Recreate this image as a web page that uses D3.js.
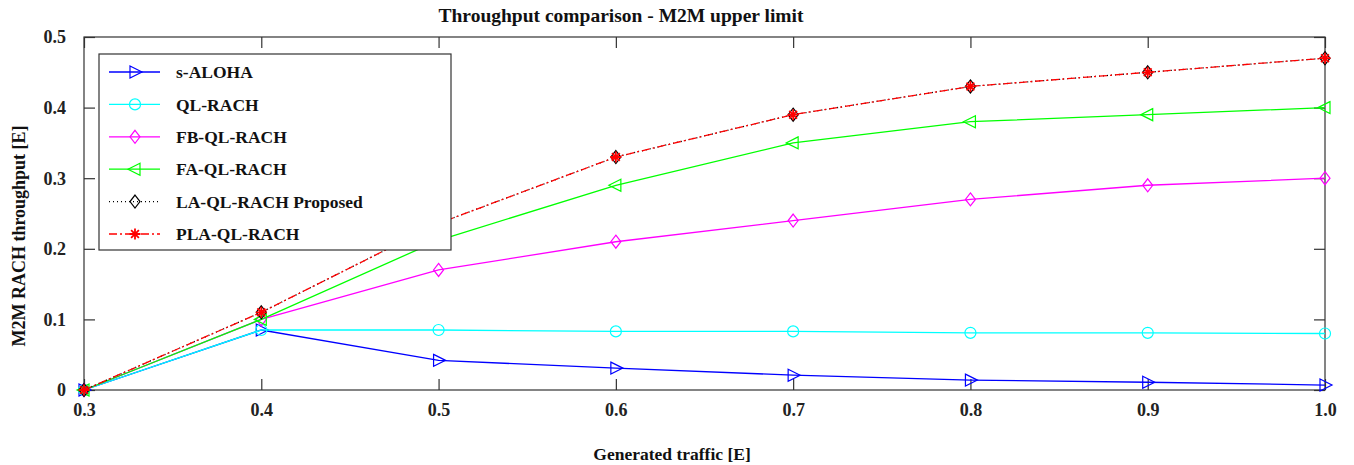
<!DOCTYPE html>
<html><head><meta charset="utf-8">
<script src="https://cdn.jsdelivr.net/npm/d3@7"></script>
<style>body{margin:0;background:#fff}svg{display:block}text{font-family:"Liberation Serif","Times New Roman",serif;font-weight:bold}</style>
</head><body><svg id="c" width="1354" height="465"></svg>
<script>
const xValues = [0.3, 0.4, 0.5, 0.6, 0.7, 0.8, 0.9, 1.0];
const xTickLabels = ["0.3","0.4","0.5","0.6","0.7","0.8","0.9","1.0"];
const yTickValues = [0, 0.1, 0.2, 0.3, 0.4, 0.5];
const yTickLabels = ["0","0.1","0.2","0.3","0.4","0.5"];
const seriesNames = ["s-ALOHA","QL-RACH","FB-QL-RACH","FA-QL-RACH","LA-QL-RACH Proposed","PLA-QL-RACH"];
const sAloha   = [0, 0.085, 0.042, 0.031, 0.021, 0.014, 0.011, 0.007];
const qlRach   = [0, 0.085, 0.085, 0.083, 0.083, 0.081, 0.081, 0.080];
const fbQlRach = [0, 0.100, 0.170, 0.210, 0.240, 0.270, 0.290, 0.300];
const faQlRach = [0, 0.100, 0.212, 0.290, 0.350, 0.380, 0.390, 0.400];
const laQlRach = [0, 0.110, 0.236, 0.330, 0.390, 0.430, 0.450, 0.470];
const plaQlRach= [0, 0.110, 0.236, 0.330, 0.390, 0.430, 0.450, 0.470];
const seriesValues = [sAloha, qlRach, fbQlRach, faQlRach, laQlRach, plaQlRach];
const styles = [
  {color:"#0000ff", dash:null, marker:"tri-right"},
  {color:"#00ffff", dash:null, marker:"circle"},
  {color:"#ff00ff", dash:null, marker:"diamond"},
  {color:"#00ff00", dash:null, marker:"tri-left"},
  {color:"#000000", dash:"1,3", marker:"diamond"},
  {color:"#ff0000", dash:"8,3,2,3", marker:"star"}
];
const svg = d3.select("#c");
const L=84, R=1325, T=37, B=390;
const x = d3.scaleLinear().domain([0.3,1.0]).range([L,R]);
const y = d3.scaleLinear().domain([0,0.5]).range([B,T]);
const axisColor="#333";
svg.append("rect").attr("x",L).attr("y",T).attr("width",R-L).attr("height",B-T).attr("fill","none").attr("stroke",axisColor).attr("stroke-width",1.2);
const xa = svg.append("g").attr("transform",`translate(0,${B})`).call(d3.axisBottom(x).tickValues(xValues).tickFormat((d,i)=>xTickLabels[i]).tickSizeInner(-11).tickSizeOuter(0).tickPadding(10));
const xt = svg.append("g").attr("transform",`translate(0,${T})`).call(d3.axisTop(x).tickValues(xValues).tickFormat("").tickSizeInner(-11).tickSizeOuter(0));
const ya = svg.append("g").attr("transform",`translate(${L},0)`).call(d3.axisLeft(y).tickValues(yTickValues).tickFormat((d,i)=>yTickLabels[i]).tickSizeInner(-11).tickSizeOuter(0).tickPadding(18));
const yr = svg.append("g").attr("transform",`translate(${R},0)`).call(d3.axisRight(y).tickValues(yTickValues).tickFormat("").tickSizeInner(-11).tickSizeOuter(0));
[xa,xt,ya,yr].forEach(g=>{g.select(".domain").remove();g.selectAll("line").attr("stroke",axisColor).attr("stroke-width",1.2);g.selectAll("text").attr("fill","#222").style("font-size","18px").style("font-family","'Liberation Serif',serif").style("font-weight","bold");});
xa.selectAll("text").attr("y",26).attr("dy","0");
ya.selectAll("text").attr("dy","0.33em");
function drawMarker(g, type, cx, cy, color){
  const s = 6;
  if(type==="tri-right"){
    g.append("path").attr("d",`M${cx-s+1},${cy-s}L${cx+s+1},${cy}L${cx-s+1},${cy+s}Z`).attr("fill","none").attr("stroke",color).attr("stroke-width",1.2);
  } else if(type==="tri-left"){
    g.append("path").attr("d",`M${cx+s-1},${cy-s}L${cx-s-1},${cy}L${cx+s-1},${cy+s}Z`).attr("fill","none").attr("stroke",color).attr("stroke-width",1.2);
  } else if(type==="circle"){
    g.append("circle").attr("cx",cx).attr("cy",cy).attr("r",5.5).attr("fill","none").attr("stroke",color).attr("stroke-width",1.2);
  } else if(type==="diamond"){
    g.append("path").attr("d",`M${cx},${cy-6.5}L${cx+5},${cy}L${cx},${cy+6.5}L${cx-5},${cy}Z`).attr("fill","none").attr("stroke",color).attr("stroke-width",1.2);
  } else if(type==="star"){
    const r=5.5;
    let d="";
    for(let k=0;k<4;k++){const a=k*Math.PI/4;d+=`M${cx-r*Math.cos(a)},${cy-r*Math.sin(a)}L${cx+r*Math.cos(a)},${cy+r*Math.sin(a)}`;}
    g.append("path").attr("d",d).attr("stroke",color).attr("stroke-width",1.8);
  }
}
const line = d3.line().x((d,i)=>x(xValues[i])).y(d=>y(d));
const plot = svg.append("g");
seriesValues.forEach((vals,si)=>{
  const st=styles[si];
  const g=plot.append("g");
  g.append("path").datum(vals).attr("d",line).attr("fill","none").attr("stroke",st.color).attr("stroke-width",1.3).attr("stroke-dasharray",st.dash);
  vals.forEach((v,i)=>drawMarker(g,st.marker,x(xValues[i]),y(v),st.color));
});
const lg = svg.append("g");
lg.append("rect").attr("x",99).attr("y",54).attr("width",352).attr("height",196).attr("fill","#fff").attr("stroke",axisColor).attr("stroke-width",1.2);
const ly = d3.scalePoint().domain(seriesNames).range([72,234]);
seriesNames.forEach((name,si)=>{
  const st=styles[si], yy=ly(name);
  lg.append("line").attr("x1",109).attr("x2",160).attr("y1",yy).attr("y2",yy).attr("stroke",st.color).attr("stroke-width",1.3).attr("stroke-dasharray",st.dash);
  drawMarker(lg,st.marker,135,yy,st.color);
  lg.append("text").attr("x",176).attr("y",yy).attr("dy","0.35em").style("font-size","17.5px").attr("fill","#111").text(name);
});
svg.append("text").attr("x",621).attr("y",22).attr("text-anchor","middle").style("font-size","19.5px").attr("fill","#111").text("Throughput comparison - M2M upper limit");
svg.append("text").attr("x",672).attr("y",460).attr("text-anchor","middle").style("font-size","17.5px").attr("fill","#111").text("Generated traffic [E]");
svg.append("text").attr("transform","translate(25,236) rotate(-90)").attr("text-anchor","middle").style("font-size","18px").attr("fill","#111").text("M2M RACH throughput [E]");
</script></body></html>
